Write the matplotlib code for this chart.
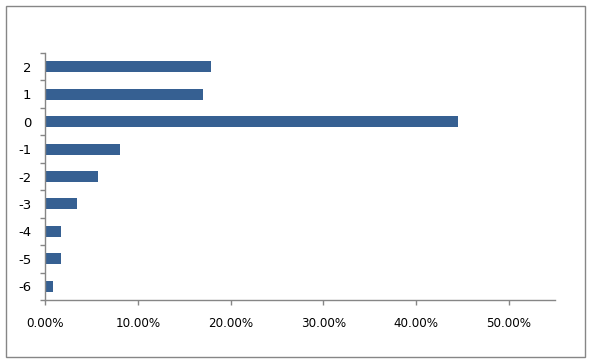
import matplotlib
matplotlib.use("Agg")
import matplotlib.pyplot as plt
from matplotlib.patches import Rectangle
from matplotlib.ticker import FuncFormatter, FixedLocator, MultipleLocator

categories = [-6, -5, -4, -3, -2, -1, 0, 1, 2]
values = [0.8, 1.7, 1.7, 3.4, 5.7, 8.1, 44.5, 17.0, 17.9]

W, H = 592, 363
fig = plt.figure(figsize=(W / 100, H / 100), dpi=100)
fig.patch.set_facecolor("white")

left, right, top, bottom = 45.3, 555, 53, 300
ax = fig.add_axes([left / W, 1 - bottom / H, (right - left) / W, (bottom - top) / H])

gray = "#868686"
ax.barh(categories, values, height=0.4, color="#366092")

ax.set_xlim(0, 55)
ax.set_ylim(min(categories) - 0.5, max(categories) + 0.5)

ax.xaxis.set_major_locator(MultipleLocator(10))
ax.xaxis.set_major_formatter(FuncFormatter(lambda v, p: f"{v:.2f}%"))
ax.yaxis.set_major_locator(FixedLocator(categories))
ax.set_yticklabels([str(c) for c in categories])
ax.yaxis.set_minor_locator(FixedLocator([c - 0.5 for c in categories] + [max(categories) + 0.5]))

for s in ["top", "right"]:
    ax.spines[s].set_visible(False)
for s in ["left", "bottom"]:
    ax.spines[s].set_color(gray)
    ax.spines[s].set_linewidth(1)

ax.tick_params(axis="x", which="major", direction="out", length=3.6, width=1, color=gray,
               pad=8.5, labelsize=8.6, labelcolor="black")
ax.tick_params(axis="y", which="major", length=0, pad=10, labelsize=9.5, labelcolor="black")
ax.tick_params(axis="y", which="minor", direction="out", length=3.6, width=1, color=gray)

fig.patches.append(Rectangle((5.5 / W, 1 - 357 / H), (585 - 5.5) / W, (357 - 5.5) / H,
                             transform=fig.transFigure, fill=False, edgecolor=gray, linewidth=1))

fig.savefig("out.png", dpi=100, facecolor="white")
